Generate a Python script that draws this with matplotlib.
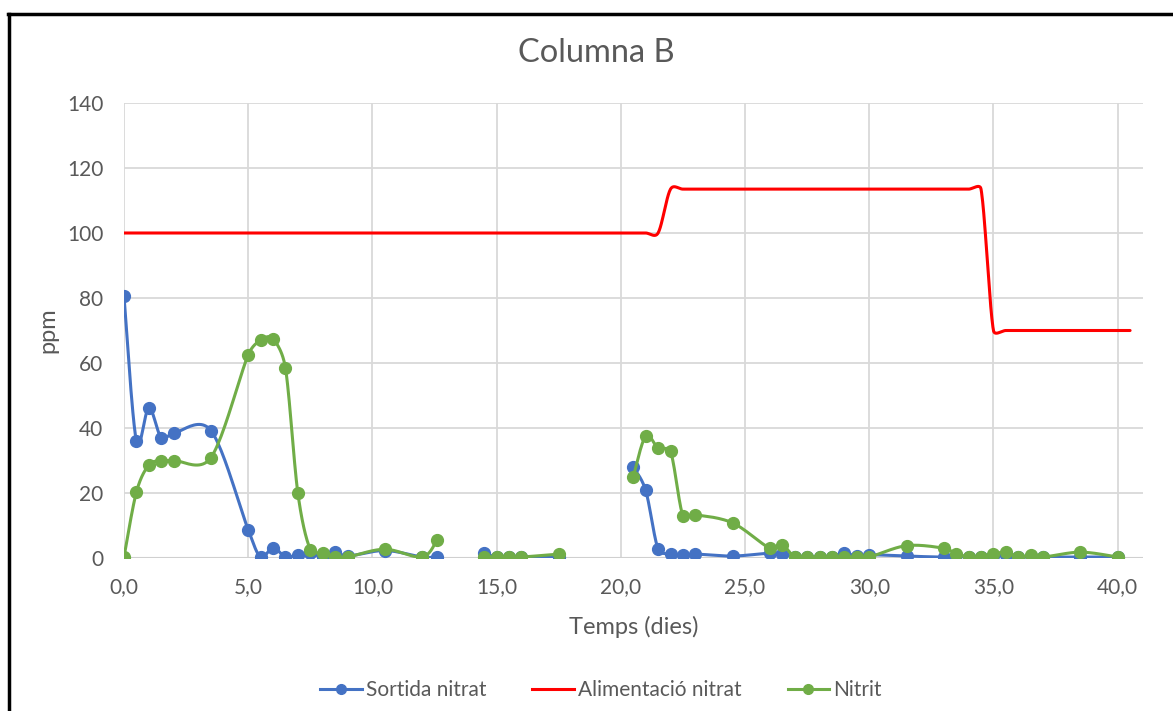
import numpy as np
import matplotlib
matplotlib.use('Agg')
import matplotlib.pyplot as plt
from matplotlib.lines import Line2D

plt.rcParams['font.family'] = ['Lato', 'DejaVu Sans']

# === Data (days, ppm) ===
temps = [0, 0.5, 1, 1.5, 2, 3.5, 5, 5.5, 6, 6.5, 7, 7.5, 8, 8.5, 9, 10.5, 12, 12.6,
         14.5, 15, 15.5, 16, 17.5,
         20.5, 21, 21.5, 22, 22.5, 23, 24.5, 26, 26.5, 27, 27.5, 28, 28.5, 29, 29.5,
         30, 31.5, 33, 33.5, 34, 34.5, 35, 35.5, 36, 36.5, 37, 38.5, 40]

sortida_nitrat = [80.5, 36, 46.2, 37, 38.4, 39.2, 8.7, 0.3, 3.2, 0.3, 1, 1.5, 0.3, 1.9, 0.6,
                  2.3, 0.3, 0.3,
                  1.5, 0.3, 0.3, 0.3, 0.3,
                  28, 20.8, 2.8, 1.2, 0.8, 1.2, 0.6, 1.5, 1.2, 0.3, 0.3, 0.3, 0.3, 1.6, 0.5,
                  1, 0.6, 0.3, 0.8, 0.3, 0.3, 0.6, 1, 0.3, 0.5, 0.3, 0.3, 0.3]

nitrit = [0.3, 20.3, 28.6, 29.9, 30, 30.9, 62.5, 67, 67.4, 58.4, 19.9, 2.6, 1.6, 0.3, 0.3,
          2.7, 0.3, 5.5,
          0.3, 0.3, 0.3, 0.3, 1.2,
          25, 37.5, 33.8, 32.8, 13, 13.3, 10.8, 3, 4, 0.3, 0.3, 0.3, 0.3, 0.3, 0.3,
          0.3, 3.8, 3, 1.3, 0.3, 0.3, 1.3, 1.7, 0.3, 0.9, 0.3, 1.8, 0.3]

temps_alim = [0, 20.5, 21, 21.5, 22, 22.5, 23, 33.5, 34, 34.5, 35, 35.5, 36, 40.5]
alimentacio = [100, 100, 100, 100, 113.5, 113.5, 113.5, 113.5, 113.5, 113.5, 70, 70, 70, 70]

BLUE = '#4472C4'
RED = '#FF0000'
GREEN = '#70AD47'
GREY = '#595959'


def smooth(ax, x, y, n=24):
    # Excel-like smoothed line: bezier in screen space, handles capped at half a segment
    p = ax.transData.transform(np.column_stack([x, y]))
    out = [p[0]]
    for i in range(len(p) - 1):
        p0, p1, p2 = p[max(i - 1, 0)], p[i], p[i + 1]
        p3 = p[min(i + 2, len(p) - 1)]
        d12 = np.hypot(*(p2 - p1))
        d02 = np.hypot(*(p2 - p0))
        d13 = np.hypot(*(p3 - p1))
        f1 = min(1 / 6, d12 / (2 * d02))
        f2 = min(1 / 6, d12 / (2 * d13))
        b1 = p1 + (p2 - p0) * f1
        b2 = p2 - (p3 - p1) * f2
        t = np.linspace(0, 1, n)[1:, None]
        seg = ((1 - t) ** 3) * p1 + 3 * ((1 - t) ** 2) * t * b1 + 3 * (1 - t) * t ** 2 * b2 + t ** 3 * p2
        out.extend(seg)
    return ax.transData.inverted().transform(np.array(out))


def pieces(x, y, gap):
    x = np.asarray(x, float)
    y = np.asarray(y, float)
    cut = np.where(np.diff(x) > gap)[0] + 1
    return zip(np.split(x, cut), np.split(y, cut))


fig = plt.figure(figsize=(11.73, 7.11), dpi=100)
ax = fig.add_axes([124 / 1173, 1 - 558 / 711, (1143 - 124) / 1173, (558 - 103) / 711])
ax.set_xlim(0, 41.02)
ax.set_ylim(0, 140)
ax.set_xticks(np.arange(0, 41, 5))
ax.set_xticklabels([f'{v:.1f}'.replace('.', ',') for v in np.arange(0, 41, 5)])
ax.set_yticks(np.arange(0, 141, 20))
for s in ax.spines.values():
    s.set_visible(False)
ax.grid(True, color='#d9d9d9', linewidth=1.3)
ax.set_axisbelow(True)
ax.axhline(0, color='#d0d0d0', linewidth=1.5, zorder=1)
ax.tick_params(length=0, labelsize=15, colors=GREY)
ax.tick_params(axis='y', pad=15)
ax.tick_params(axis='x', pad=14)

# measured series break where a sampling gap is longer than 1.5 days
series = [(temps, sortida_nitrat, BLUE, True, 1.6),
          (temps_alim, alimentacio, RED, False, 100),
          (temps, nitrit, GREEN, True, 1.6)]
for i, (xs, ys, col, mk, gap) in enumerate(series):
    for px, py in pieces(xs, ys, gap):
        c = smooth(ax, px, py)
        ax.plot(c[:, 0], c[:, 1], color=col, linewidth=2.2, zorder=3 + i, solid_capstyle='round')
        if mk:
            ax.plot(px, py, 'o', color=col, markersize=8.5, zorder=3 + i)

fig.text(596 / 1173, 1 - 53 / 711, 'Columna B', fontsize=23.5, color=GREY,
         ha='center', va='center')
ax.set_xlabel('Temps (dies)', fontsize=17, color=GREY, labelpad=13)
ax.set_ylabel('ppm', fontsize=17, color=GREY, labelpad=6)

handles = [Line2D([], [], color=BLUE, marker='o', markersize=7, linewidth=2.2),
           Line2D([], [], color=RED, linewidth=2.2),
           Line2D([], [], color=GREEN, marker='o', markersize=7, linewidth=2.2)]
fig.legend(handles, ['Sortida nitrat', 'Alimentació nitrat', 'Nitrit'], loc='center',
           bbox_to_anchor=(601 / 1173, 1 - 690 / 711), ncol=3, frameon=False, fontsize=15,
           handlelength=2.0, columnspacing=2.2, handletextpad=0.2, labelcolor=GREY)

# outer frame (left and top edges visible)
fig.add_artist(Line2D([9 / 1173, 9 / 1173], [0, 1 - 14 / 711], color='black', linewidth=2.5))
fig.add_artist(Line2D([8 / 1173, 1], [1 - 14 / 711, 1 - 14 / 711], color='black', linewidth=2.5))

fig.savefig('out.png', dpi=100)
